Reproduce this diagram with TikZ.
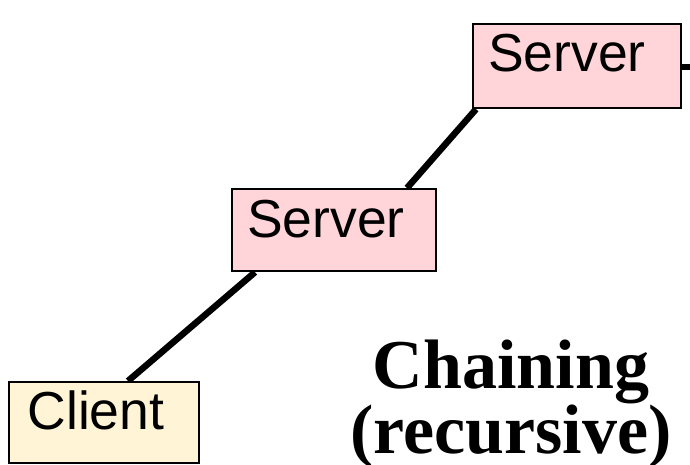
\documentclass[tikz,border=0pt]{standalone}
\usepackage{fontspec}
\setmainfont{Liberation Serif}
\newfontfamily\arialfont{Liberation Sans}
\usetikzlibrary{calc,backgrounds}
\definecolor{srvpink}{HTML}{FFD5D9}
\definecolor{clicream}{HTML}{FFF4D6}
\tikzset{
  box/.style={draw=black, line width=2.2pt, inner sep=0pt, anchor=north west},
  lbl/.style={font=\arialfont\fontsize{53.5}{53.5}\selectfont, anchor=base, inner sep=0pt},
  conn/.style={line width=6.5pt},
  title/.style={font=\bfseries\fontsize{70}{64}\selectfont, align=center, inner sep=0pt}
}
\begin{document}
\begin{tikzpicture}[x=1pt,y=1pt]
\useasboundingbox (0,0) rectangle (690,465);
% boxes (pixel coordinates flipped: y = 465 - ypx)
\node[box, fill=clicream, minimum width=190pt, minimum height=81pt] (client) at (8,84) {};
\node[box, fill=srvpink, minimum width=204pt, minimum height=82pt] (srvA) at (231,277) {};
\node[box, fill=srvpink, minimum width=208pt, minimum height=84pt] (srvB) at (472,442) {};
% labels
\node[lbl] (clientlbl) at (96,35) {Client};
\node[lbl] (srvAlbl) at (326,227) {Server};
\node[lbl] (srvBlbl) at (567,393) {Server};
\node[title] (ttl) at (511,61) {Chaining\\(recursive)};
% connectors
\coordinate (exitR) at (692,398);
\begin{scope}[on background layer]
\draw[conn] ($(client.north west)+(120,0)$) -- ($(srvA.south west)+(24,0)$);
\draw[conn] ($(srvA.north west)+(176,0)$) -- ($(srvB.south west)+(4,0)$);
\draw[conn] (srvB.east |- exitR) -- (exitR);
\end{scope}
\end{tikzpicture}
\end{document}
